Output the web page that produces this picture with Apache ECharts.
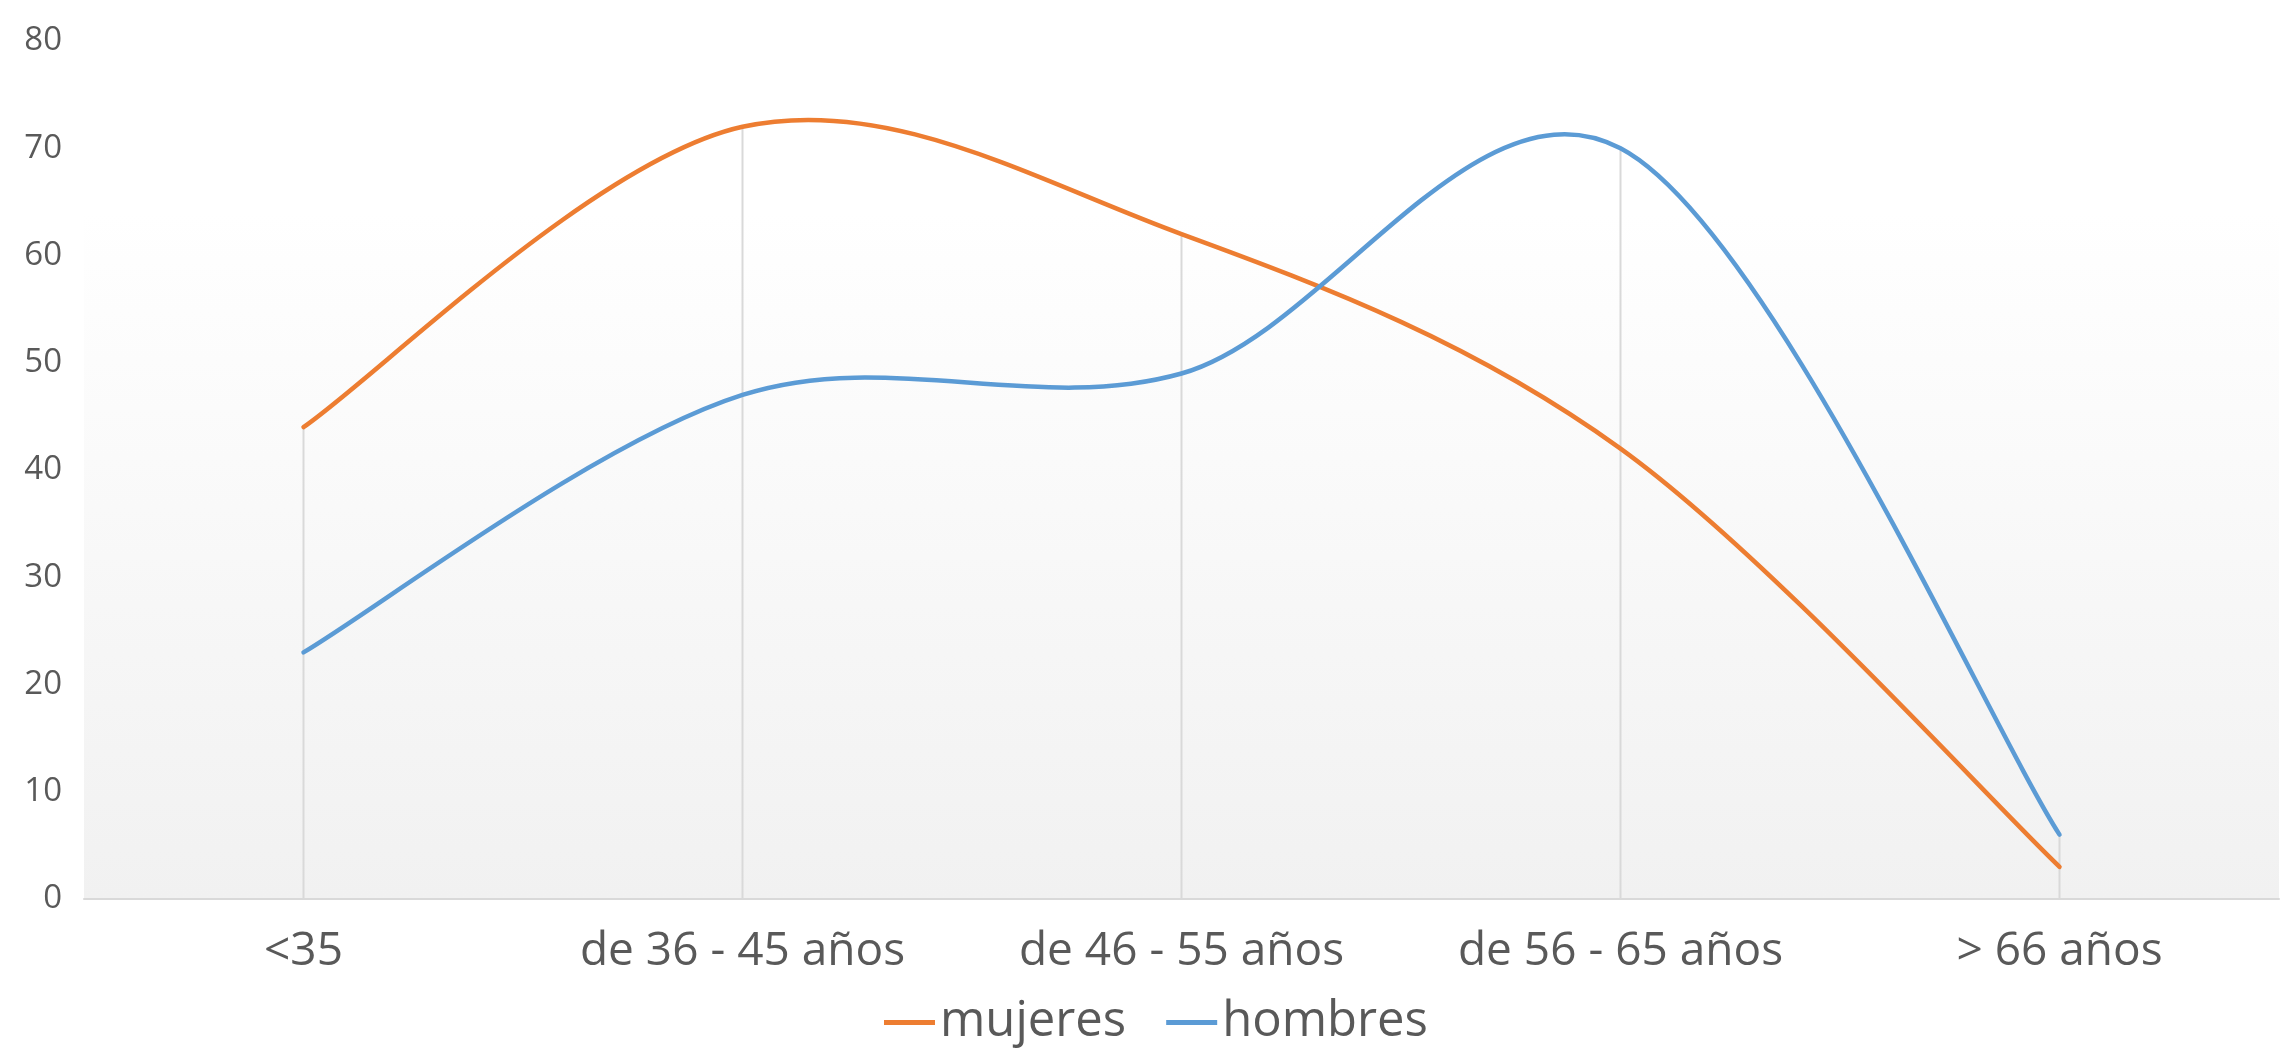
<!DOCTYPE html>
<html>
<head>
<meta charset="utf-8">
<style>
  html, body { margin: 0; padding: 0; background: #ffffff; }
  #chart { width: 2285px; height: 1052px; }
</style>
<script src="https://cdn.jsdelivr.net/npm/echarts@6/dist/echarts.min.js"></script>
</head>
<body>
<div id="chart"></div>
<script>
const categories = ['<35', 'de 36 - 45 años', 'de 46 - 55 años', 'de 56 - 65 años', '> 66 años'];
const mujeres = [44, 72, 62, 42, 3];
const hombres = [23, 47, 49, 70, 6];
const yTicks = { min: 0, max: 80, interval: 10 };

const dropValues = categories.map((c, i) => Math.max(mujeres[i], hombres[i]));

// Excel-like smoothed line: Catmull-Rom through the points mapped by the axes
function smoothRenderer(values, color) {
  return function (params, api) {
    if (params.dataIndex !== 0) return null;
    const pts = values.map((v, i) => api.coord([i, v]));
    let d = 'M' + pts[0][0] + ' ' + pts[0][1];
    for (let i = 0; i < pts.length - 1; i++) {
      const p0 = pts[Math.max(i - 1, 0)];
      const p1 = pts[i];
      const p2 = pts[i + 1];
      const p3 = pts[Math.min(i + 2, pts.length - 1)];
      const c1x = p1[0] + (p2[0] - p0[0]) / 6;
      const c1y = p1[1] + (p2[1] - p0[1]) / 6;
      const c2x = p2[0] - (p3[0] - p1[0]) / 6;
      const c2y = p2[1] - (p3[1] - p1[1]) / 6;
      d += ' C' + c1x + ' ' + c1y + ' ' + c2x + ' ' + c2y + ' ' + p2[0] + ' ' + p2[1];
    }
    return {
      type: 'path',
      shape: { pathData: d },
      style: { fill: null, stroke: color, lineWidth: 4.5, lineCap: 'round', lineJoin: 'round' }
    };
  };
}

const ORANGE = '#ED7D31';
const BLUE = '#5B9BD5';

const chart = echarts.init(document.getElementById('chart'));
const font = '"Open Sans", "Noto Sans", sans-serif';
chart.setOption({
  animation: false,
  backgroundColor: '#ffffff',
  color: [ORANGE, BLUE],
  textStyle: { fontFamily: font },
  grid: {
    left: 84, right: 6, top: 41, bottom: 153,
    show: true, borderWidth: 0,
    backgroundColor: {
      type: 'linear', x: 0, y: 0, x2: 0, y2: 1,
      colorStops: [
        { offset: 0, color: '#ffffff' },
        { offset: 0.2, color: '#ffffff' },
        { offset: 1, color: '#f1f1f1' }
      ]
    }
  },
  legend: {
    data: [
      { name: 'mujeres', icon: 'rect', itemStyle: { color: ORANGE } },
      { name: 'hombres', icon: 'rect', itemStyle: { color: BLUE } }
    ],
    top: 998,
    left: 884,
    padding: 0,
    itemWidth: 51,
    itemHeight: 5,
    itemGap: 40,
    textStyle: { fontSize: 49, color: '#595959', fontFamily: font }
  },
  xAxis: {
    type: 'category',
    data: categories,
    boundaryGap: true,
    axisLine: { show: true, lineStyle: { color: '#d9d9d9', width: 2 } },
    axisTick: { show: false },
    splitLine: { show: false },
    axisLabel: { fontSize: 46, color: '#595959', margin: 30, fontFamily: font, interval: 0 }
  },
  yAxis: {
    type: 'value',
    min: yTicks.min, max: yTicks.max, interval: yTicks.interval,
    axisLine: { show: false },
    axisTick: { show: false },
    splitLine: { show: false },
    axisLabel: { fontSize: 33, color: '#595959', margin: 22, fontFamily: font }
  },
  series: [
    {
      name: 'drop',
      type: 'bar',
      data: dropValues,
      barWidth: 2,
      silent: true,
      z: 1,
      itemStyle: { color: '#d9d9d9' }
    },
    {
      name: 'mujeres',
      type: 'custom',
      data: mujeres.map((v, i) => [i, v]),
      encode: { x: 0, y: 1 },
      renderItem: smoothRenderer(mujeres, ORANGE),
      itemStyle: { color: ORANGE },
      silent: true,
      z: 3
    },
    {
      name: 'hombres',
      type: 'custom',
      data: hombres.map((v, i) => [i, v]),
      encode: { x: 0, y: 1 },
      renderItem: smoothRenderer(hombres, BLUE),
      itemStyle: { color: BLUE },
      silent: true,
      z: 3
    }
  ]
});
</script>
</body>
</html>
